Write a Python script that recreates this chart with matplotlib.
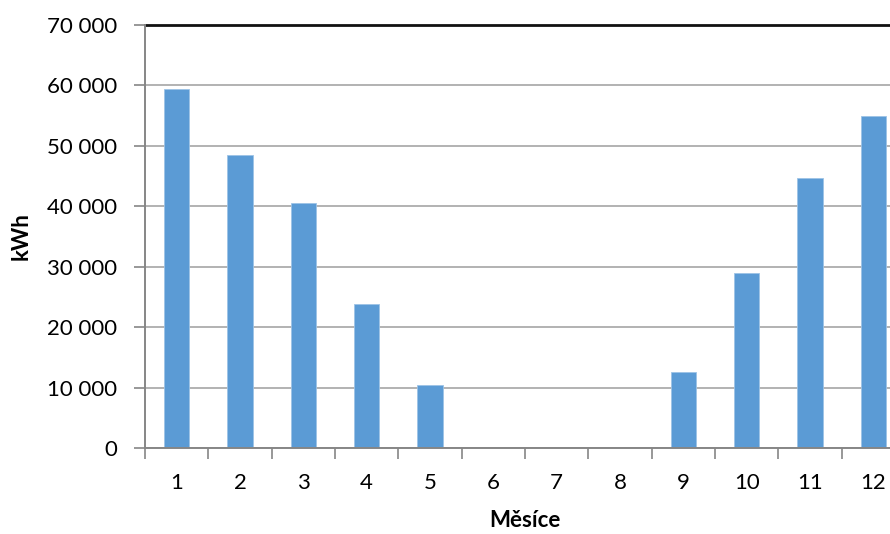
import matplotlib
matplotlib.use("Agg")
import matplotlib.pyplot as plt
from matplotlib.ticker import FuncFormatter, FixedLocator

plt.rcParams['font.family'] = ['Lato', 'DejaVu Sans']

# monthly consumption
months = [1, 2, 3, 4, 5, 6, 7, 8, 9, 10, 11, 12]
kwh = [59400, 48500, 40500, 23800, 10500, 0, 0, 0, 12600, 29000, 44700, 54900]
y_ticks = [0, 10000, 20000, 30000, 40000, 50000, 60000, 70000]

bar_color = '#5B9BD5'
axis_color = '#868686'
grid_color = '#A6A6A6'

fig = plt.figure(figsize=(8.9, 5.34), dpi=100)
W, H = 890, 534
left, right, top, bottom = 145, 905, 25, 448
ax = fig.add_axes([left / W, 1 - bottom / H, (right - left) / W, (bottom - top) / H])

ax.bar(months, kwh, width=0.4, color=bar_color, edgecolor='#9DC3E6', linewidth=0.6, zorder=3)

ax.set_xlim(0.5, 12.5)
ax.set_ylim(0, 70000)
ax.set_yticks(y_ticks)
ax.yaxis.set_major_formatter(FuncFormatter(lambda v, p: f"{int(v):,}".replace(',', ' ')))
ax.grid(axis='y', color=grid_color, linewidth=1.2, zorder=0)

# category labels in the middle, tick marks between categories
ax.set_xticks(months)
ax.xaxis.set_minor_locator(FixedLocator([m + 0.5 for m in [0] + months]))
ax.tick_params(axis='x', which='major', length=0, pad=18, labelsize=16)
ax.tick_params(axis='x', which='minor', length=8, width=1.2, color=axis_color, direction='out')
ax.tick_params(axis='y', length=8, width=1.2, color=axis_color, direction='out', pad=12, labelsize=16)

for s in ['left', 'bottom']:
    ax.spines[s].set_color(axis_color)
    ax.spines[s].set_linewidth(1.4)
ax.spines['right'].set_visible(False)
ax.spines['top'].set_color('#111111')
ax.spines['top'].set_linewidth(2)
ax.spines['left'].set_zorder(4)
ax.spines['bottom'].set_zorder(4)

ax.set_xlabel('Měsíce', fontsize=16, fontweight='bold')
ax.xaxis.set_label_coords((525 - left) / (right - left), -(510 - bottom) / (bottom - top))
ax.set_ylabel('kWh', fontsize=16, fontweight='bold')
ax.yaxis.set_label_coords(-(left - 32) / (right - left), 0.5)

fig.savefig('out.png', dpi=100)
